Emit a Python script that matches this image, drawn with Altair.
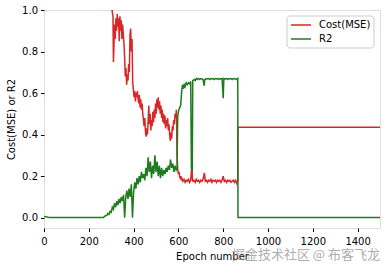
import altair as alt
import pandas as pd

# ---- data ----
cost_epoch = [298, 302, 305, 308, 310, 312, 315, 318, 321, 324, 327, 330, 333, 336, 339, 342, 345, 348,
              351, 354, 357, 360, 363, 366, 369, 372, 375, 378, 381, 384, 387, 390, 393, 396, 399,
              402, 405, 408, 411, 414, 417, 420, 423, 426, 429, 432, 435, 438, 441, 444, 447, 450,
              453, 456, 459, 462, 465, 468, 471, 474, 477, 480, 483, 486, 489, 492, 495, 498, 501,
              504, 507, 510, 513, 516, 519, 522, 525, 528, 531, 534, 537, 540, 543, 546, 549, 552,
              555, 558, 561, 564, 567, 570, 573, 576, 579, 582, 585, 588, 591, 594, 597, 600, 603,
              606, 609, 612, 615, 620, 625, 630, 635, 640, 645, 650, 655, 660, 663, 665, 670, 675,
              680, 685, 690, 695, 700, 705, 710, 716, 720, 725, 730, 735, 740, 745, 750, 755, 760,
              765, 770, 775, 780, 785, 790, 795, 800, 805, 810, 815, 820, 825, 830, 835, 840, 845,
              850, 855, 860, 865, 866, 1500]
cost_value = [1.15, 1.02, 0.99, 0.97, 0.75, 0.82, 0.93, 0.86, 0.96, 0.90, 0.98, 0.92, 0.96, 0.85, 0.97, 0.90, 0.95, 0.86,
              0.93, 0.88, 0.84, 0.77, 0.68, 0.72, 0.64, 0.69, 0.66, 0.74, 0.70, 0.88, 0.91, 0.80, 0.86, 0.65, 0.62,
              0.58, 0.61, 0.56, 0.60, 0.58, 0.61, 0.57, 0.55, 0.59, 0.53, 0.57, 0.52, 0.55, 0.50, 0.47, 0.44, 0.48,
              0.41, 0.39, 0.43, 0.40, 0.47, 0.54, 0.45, 0.50, 0.42, 0.47, 0.44, 0.51, 0.46, 0.52, 0.48, 0.55, 0.50,
              0.57, 0.53, 0.58, 0.52, 0.56, 0.50, 0.54, 0.48, 0.52, 0.46, 0.50, 0.45, 0.49, 0.43, 0.47, 0.44, 0.48,
              0.42, 0.45, 0.40, 0.37, 0.41, 0.38, 0.44, 0.42, 0.47, 0.45, 0.50, 0.48, 0.52, 0.30, 0.23, 0.21, 0.22,
              0.19, 0.20, 0.18, 0.19, 0.175, 0.185, 0.17, 0.18, 0.175, 0.185, 0.17, 0.18, 0.25, 0.18, 0.175, 0.18, 0.17,
              0.185, 0.175, 0.18, 0.17, 0.18, 0.175, 0.185, 0.215, 0.175, 0.18, 0.17, 0.18, 0.175, 0.185, 0.17, 0.18, 0.175,
              0.18, 0.17, 0.18, 0.175, 0.18, 0.17, 0.18, 0.20, 0.175, 0.18, 0.17, 0.18, 0.175, 0.18, 0.17, 0.175, 0.18,
              0.17, 0.18, 0.165, 0.18, 0.435, 0.435]

r2_epoch = [0, 10, 25, 260, 265, 270, 275, 280, 285, 290, 295, 300, 305, 310, 315, 320, 325, 330, 335,
            340, 345, 350, 355, 360, 365, 370, 375, 380, 385, 390, 395, 400, 405, 410, 415, 420, 425,
            430, 435, 440, 445, 450, 455, 460, 465, 470, 475, 480, 485, 490, 495, 500, 505, 510, 515,
            520, 525, 530, 535, 540, 545, 550, 555, 560, 565, 570, 575, 580, 585, 590, 594, 597, 602,
            606, 610, 614, 618, 622, 626, 630, 635, 640, 645, 650, 655, 658, 662, 664, 670, 675, 680,
            685, 690, 695, 700, 705, 710, 715, 718, 725, 730, 735, 740, 745, 750, 755, 760, 765, 770,
            775, 780, 785, 790, 795, 800, 803, 810, 815, 820, 825, 830, 835, 840, 845, 850, 855, 860,
            865, 866, 1500]
r2_value = [0.005, 0.004, 0.0, 0.0, 0.0, 0.005, 0.01, 0.01, 0.02, 0.015, 0.03, 0.025, 0.05, 0.04, 0.07, 0.05, 0.08, 0.06, 0.09,
            0.07, 0.10, 0.08, 0.11, 0.0, 0.10, 0.13, 0.09, 0.14, 0.10, 0.16, 0.0, 0.12, 0.17, 0.14, 0.19, 0.16, 0.20,
            0.17, 0.22, 0.19, 0.21, 0.18, 0.24, 0.20, 0.29, 0.22, 0.27, 0.19, 0.25, 0.21, 0.30, 0.22, 0.27, 0.20, 0.25,
            0.19, 0.24, 0.20, 0.23, 0.21, 0.24, 0.22, 0.25, 0.23, 0.28, 0.24, 0.26, 0.22, 0.25, 0.23, 0.24, 0.49, 0.52,
            0.53, 0.54, 0.60, 0.64, 0.62, 0.64, 0.63, 0.65, 0.64, 0.65, 0.645, 0.655, 0.24, 0.22, 0.66, 0.665, 0.66, 0.67,
            0.665, 0.67, 0.665, 0.67, 0.668, 0.665, 0.635, 0.665, 0.67, 0.668, 0.67, 0.665, 0.67, 0.668, 0.67, 0.665, 0.67, 0.668,
            0.67, 0.665, 0.67, 0.668, 0.67, 0.575, 0.67, 0.668, 0.67, 0.665, 0.67, 0.668, 0.67, 0.665, 0.67, 0.668, 0.67, 0.665,
            0.67, 0.0, 0.0]

series_names = ["Cost(MSE)", "R2"]
series_colors = ["#d92626", "#1e7b1e"]
x_ticks = [0, 200, 400, 600, 800, 1000, 1200, 1400]
y_ticks = [0.0, 0.2, 0.4, 0.6, 0.8, 1.0]
watermark = "掘金技术社区 @ 布客飞龙"

cost_df = pd.DataFrame({"epoch": cost_epoch, "value": cost_value, "series": series_names[0]})
r2_df = pd.DataFrame({"epoch": r2_epoch, "value": r2_value, "series": series_names[1]})

FONT = "DejaVu Sans"
W, H = 336, 218

x_scale = alt.Scale(domain=[0, 1500], nice=False, zero=False)
y_scale = alt.Scale(domain=[-0.05, 1.0], nice=False, zero=False)
color_scale = alt.Scale(domain=series_names, range=series_colors)

x_enc = alt.X("epoch:Q", scale=x_scale,
              axis=alt.Axis(values=x_ticks, title="Epoch number", format="d",
                            labelFont=FONT, labelFontSize=10, titleFont=FONT, titleFontSize=10,
                            titleFontWeight="normal", tickSize=3.5, labelPadding=5,
                            titlePadding=5, domain=False, grid=False, tickColor="#000",
                            labelColor="#000", titleColor="#000", labelFlush=False))
y_enc = alt.Y("value:Q", scale=y_scale,
              axis=alt.Axis(values=y_ticks, title="Cost(MSE) or R2", format=".1f",
                            labelFont=FONT, labelFontSize=10, titleFont=FONT, titleFontSize=10,
                            titleFontWeight="normal", tickSize=3.5, labelPadding=3,
                            titlePadding=5, domain=False, grid=False, tickColor="#000",
                            labelColor="#000", titleColor="#000", labelFlush=False))

cost_line = alt.Chart(cost_df).mark_line(clip=True, strokeWidth=1.5).encode(
    x=x_enc, y=y_enc,
    color=alt.Color("series:N", scale=color_scale, legend=None))
r2_line = alt.Chart(r2_df).mark_line(clip=True, strokeWidth=1.5).encode(
    x=x_enc, y=y_enc,
    color=alt.Color("series:N", scale=color_scale, legend=None))

# legend (drawn as marks in pixel space)
one = pd.DataFrame({"a": [0]})
leg_box = alt.Chart(one).mark_rect(
    fill="white", stroke="#cccccc", strokeWidth=1, cornerRadius=3).encode(
    x=alt.value(243), x2=alt.value(330), y=alt.value(6), y2=alt.value(38))
leg_line1 = alt.Chart(one).mark_rule(strokeWidth=1.5, color=series_colors[0]).encode(
    x=alt.value(247), x2=alt.value(267), y=alt.value(15))
leg_line2 = alt.Chart(one).mark_rule(strokeWidth=1.5, color=series_colors[1]).encode(
    x=alt.value(247), x2=alt.value(267), y=alt.value(29))
leg_text1 = alt.Chart(pd.DataFrame({"t": [series_names[0]]})).mark_text(
    align="left", baseline="middle", font=FONT, fontSize=10, color="#000").encode(
    x=alt.value(275), y=alt.value(15), text="t:N")
leg_text2 = alt.Chart(pd.DataFrame({"t": [series_names[1]]})).mark_text(
    align="left", baseline="middle", font=FONT, fontSize=10, color="#000").encode(
    x=alt.value(275), y=alt.value(29), text="t:N")

wm = alt.Chart(pd.DataFrame({"t": [watermark]})).mark_text(
    align="right", baseline="middle", font="Noto Sans CJK SC", fontSize=13,
    color="#8c8c8c", opacity=0.7).encode(
    x=alt.value(336), y=alt.value(245), text="t:N")

chart = alt.layer(cost_line, r2_line, leg_box, leg_line1, leg_line2, leg_text1, leg_text2, wm).properties(
    width=W, height=H,
    autosize=alt.AutoSizeParams(type="none"),
    padding={"left": 44, "top": 10, "right": 9, "bottom": 38},
).configure_view(stroke="#000", strokeWidth=1).configure(background="white")

chart.save("out.html", embed_options={"renderer": "svg", "actions": False})
